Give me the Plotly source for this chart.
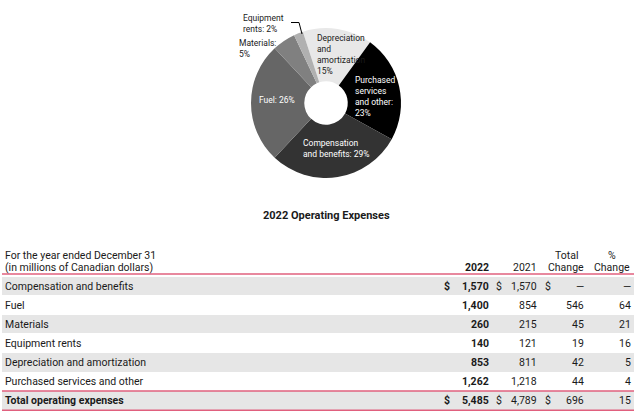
import plotly.graph_objects as go

W, H = 640, 415

# ---------------- data ----------------
categories = ["Compensation and benefits", "Fuel", "Materials", "Equipment rents",
              "Depreciation and amortization", "Purchased services and other"]
v2022 = [1570, 1400, 260, 140, 853, 1262]
v2021 = [1570, 854, 215, 121, 811, 1218]
total_change = [0, 546, 45, 19, 42, 44]
pct_change = [0, 64, 21, 16, 5, 4]
total_label = "Total operating expenses"
total_2022 = 5485
total_2021 = 4789
total_chg = 696
total_pct = 15

pie_labels = ["Depreciation and amortization", "Purchased services and other",
              "Compensation and benefits", "Fuel", "Materials", "Equipment rents"]
pie_pct = [15, 23, 29, 26, 5, 2]
pie_text_tpl = ["Depreciation<br>and<br>amortization<br>{}%",
                "Purchased<br>services<br>and other:<br>{}%",
                "Compensation<br>and benefits: {}%",
                "Fuel: {}%",
                "Materials:<br>{}%",
                "Equipment<br>rents: {}%"]
pie_colors = ["#e8e8e8", "#000000", "#333333", "#666666", "#808080", "#b0b0b0"]
pie_text_colors = ["#1a1a1a", "#ffffff", "#ffffff", "#ffffff", "#1a1a1a", "#1a1a1a"]
# label anchor (left edge, middle) in pixels
pie_text_pos = [(316, 55), (354, 96), (302, 148), (258, 100), (238, 48), (242, 23)]

title = "2022 Operating Expenses"
hdr_lines = ["For the year ended December 31", "(in millions of Canadian dollars)"]

FONT = "Roboto"
TXT = "#1a1a1a"
PINK = "#e0607e"
BAND = "#e6e6e6"
TS = 10.5

def px(x):
    return x / W

def py(y):
    return 1 - y / H

fig = go.Figure()

# ---------------- donut ----------------
cx, cy, r = 326, 103, 75
fig.add_trace(go.Pie(
    labels=pie_labels, values=pie_pct, sort=False, direction="clockwise",
    rotation=-18, hole=0.29,
    marker=dict(colors=pie_colors, line=dict(width=0)),
    textinfo="none", hoverinfo="label+percent", showlegend=False,
    domain=dict(x=[px(cx - r), px(cx + r)], y=[py(cy + r), py(cy - r)]),
))

annotations = []
for tpl, p, col, (x, y) in zip(pie_text_tpl, pie_pct, pie_text_colors, pie_text_pos):
    annotations.append(dict(
        text=tpl.format(p), x=px(x), y=py(y), xref="paper", yref="paper",
        xanchor="left", yanchor="middle", align="left", showarrow=False,
        borderpad=0, font=dict(family=FONT, size=8.5, color=col)))

shapes = [dict(type="path", xref="paper", yref="paper",
               path=f"M {px(291)},{py(22.5)} L {px(299)},{py(22.5)} L {px(302)},{py(34)}",
               line=dict(color="#000000", width=1))]

# title
annotations.append(dict(text=f"<b>{title}</b>", x=px(326), y=py(215), xref="paper", yref="paper",
                        xanchor="center", yanchor="middle", showarrow=False,
                        font=dict(family=FONT, size=11, color=TXT)))

# ---------------- table ----------------
n = len(categories)
rows = list(range(n + 1))          # 0..5 categories, 6 total
band_rows = [i for i in rows if i % 2 == 0]

fig.add_trace(go.Bar(
    y=band_rows, x=[632] * len(band_rows), base=2, orientation="h", width=0.96,
    marker=dict(color=BAND, line=dict(width=0)), hoverinfo="skip", showlegend=False,
    xaxis="x", yaxis="y"))

pitch = 19.1
row0 = 286.0
y_top = -row0 / pitch
y_bot = (H - row0) / pitch

def hline(yv):
    shapes.append(dict(type="line", xref="x", yref="y", x0=2, x1=634, y0=yv, y1=yv,
                       line=dict(color=PINK, width=1.5)))

hline(-0.63)
hline(n - 0.5)
hline(n + 0.5)

def txt(s, x, y, anchor, bold=False, size=TS):
    if bold:
        s = f"<b>{s}</b>"
    annotations.append(dict(text=s, x=x, y=y, xref="x", yref="y", xanchor=anchor,
                            yanchor="middle", showarrow=False, borderpad=0,
                            font=dict(family=FONT, size=size, color=TXT)))

# header
txt(hdr_lines[0], 4, -1.62, "left")
txt(hdr_lines[1], 4, -0.99, "left")
txt("2022", 490, -0.99, "right", bold=True)
txt("2021", 538, -0.99, "right")
txt("Total", 566, -1.62, "center")
txt("Change", 566, -0.99, "center")
txt("%", 612, -1.62, "center")
txt("Change", 612, -0.99, "center")

def fmt(v):
    return "—" if v == 0 else f"{v:,}"

for i, (c, a, b, d, p) in enumerate(zip(categories, v2022, v2021, total_change, pct_change)):
    txt(c, 4, i, "left")
    txt(fmt(a), 490, i, "right", bold=True)
    txt(fmt(b), 538, i, "right")
    txt(fmt(d), 585, i, "right")
    txt(fmt(p), 632, i, "right")
    if i == 0:
        txt("$", 443, i, "left", bold=True)
        txt("$", 495, i, "left")
        txt("$", 544, i, "left")

it = n
txt(total_label, 4, it, "left", bold=True)
txt("$", 443, it, "left", bold=True)
txt(fmt(total_2022), 490, it, "right", bold=True)
txt("$", 495, it, "left")
txt(fmt(total_2021), 538, it, "right")
txt("$", 544, it, "left")
txt(fmt(total_chg), 585, it, "right")
txt(fmt(total_pct), 632, it, "right")

fig.update_layout(
    width=W, height=H, margin=dict(l=0, r=0, t=0, b=0),
    paper_bgcolor="white", plot_bgcolor="white",
    xaxis=dict(range=[0, W], domain=[0, 1], visible=False, fixedrange=True),
    yaxis=dict(range=[y_bot, y_top], domain=[0, 1], visible=False, fixedrange=True),
    annotations=annotations, shapes=shapes, bargap=0,
    font=dict(family=FONT, color=TXT),
)

fig.write_html("out.html")
